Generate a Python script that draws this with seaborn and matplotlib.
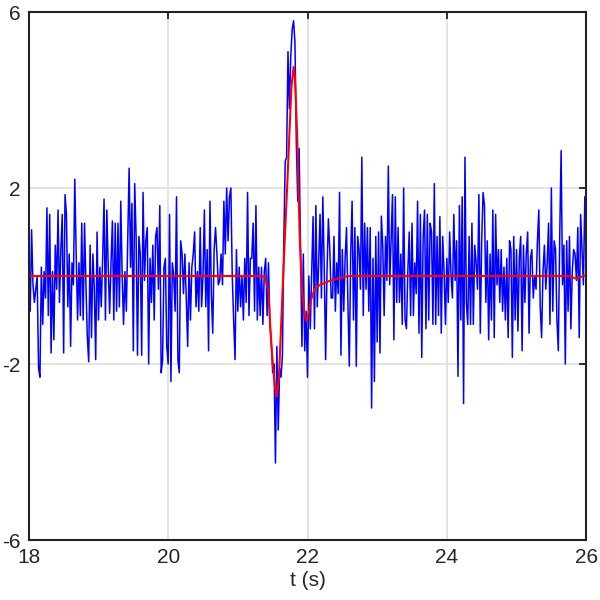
import matplotlib
matplotlib.use("Agg")
import matplotlib.pyplot as plt
import numpy as np
import pandas as pd
import seaborn as sns

# noisy measured signal, one value every 0.02 s from 18 s to 26 s
blue_18 = [0.3, -0.8, 1.05, -0.2, -0.6, -0.3, 0.0, -2.1, -2.3, 0.2,
           -1.1, 0.1, -0.5, 1.55, -0.9, 1.4, -1.75, 0.1, -1.45, 0.7,
           -0.3, 1.5, -0.6, 0.6, 1.4, -1.75, 1.85, 1.4, -0.7, 0.5,
           -1.6, 0.3, -0.2, 2.2, 0.5, -1.0, 0.3, -0.9, 1.2, -1.0,
           1.2, -0.2, -1.4, -1.95, 0.7, -1.4, 0.5, -0.3, -1.9, 1.0]
blue_19 = [-1.0, 0.2, -0.7, 0.4, 1.75, -1.0, 1.5, 0.2, -0.85, 0.3,
           1.25, -1.0, 1.2, -0.8, 1.2, -0.7, 1.7, 0.0, -1.1, 0.1,
           -0.8, 0.8, 2.45, 0.2, 1.65, -1.7, 2.1, 0.9, -1.8, 0.9,
           0.5, -1.8, 1.9, -0.1, 0.8, 1.1, -2.0, 0.4, -0.6, 0.7,
           -1.0, 0.9, 1.1, -0.3, 1.6, -2.2, -1.9, 0.2, 0.4, -1.6]
blue_20 = [-2.0, 1.4, -2.4, 0.3, 0.0, -0.8, 1.8, -1.9, -2.2, 0.8,
           0.5, -0.4, 0.5, -0.5, -1.6, 0.3, -1.0, 0.2, 0.5, 1.0,
           -0.7, 0.1, -0.8, 1.1, -0.7, 0.0, 1.5, -0.7, 0.6, -1.7,
           1.7, -0.4, -1.3, 0.6, 1.1, 0.5, -0.2, -0.1, 0.5, -0.2,
           1.7, 0.5, 2.0, 0.8, 1.8, 2.0, 0.0, -1.0, -1.9, 0.6]
blue_21 = [-0.8, 0.2, -0.7, 0.0, -1.0, 0.4, -0.6, 1.9, -0.9, 0.4,
           0.4, 1.2, -0.8, 1.6, -1.0, 0.2, -0.9, 0.2, -1.1, 0.1,
           0.4, -0.9, 0.3, -1.1, -1.5, -2.2, -2.0, -4.25, -1.6, -3.5,
           -2.1, -2.3, -1.8, 0.8, 2.6, 2.7, 5.1, 3.8, 5.0, 5.6,
           5.8, 5.3, 3.0, 1.7, 2.9, 0.7, -1.6, 0.5, -1.7, -0.8]
blue_22 = [-2.3, 0.0, -1.2, 0.1, 1.35, -1.2, 1.6, -0.7, 0.3, 1.4,
           -0.5, 1.8, 0.2, -1.9, 0.1, 1.3, 0.6, -0.5, -0.5, 0.9,
           -0.8, 0.3, -0.4, 1.9, -1.8, 0.6, -0.8, 0.4, 1.1, -0.6,
           -2.05, 0.5, 1.7, -1.0, 1.1, -2.05, 0.9, 0.6, -0.3, 2.7,
           -0.9, 1.2, -0.3, 1.1, -0.8, 1.1, -3.0, 0.4, -2.4, 0.9]
blue_23 = [-1.5, 1.0, -1.75, 1.36, 0.7, -0.9, 0.9, -0.1, 2.5, -0.2,
           0.8, 1.85, -1.45, 1.8, -0.6, 1.1, -0.6, 0.5, -1.1, 2.0,
           -1.0, -1.2, 0.1, 1.0, -0.9, 1.2, -0.9, 0.3, -0.4, 1.7,
           -1.3, 1.4, -1.85, 0.9, 1.5, -1.2, 1.4, -1.0, 1.2, 1.0,
           -1.1, 2.1, -1.1, 0.9, -0.9, 1.35, -1.3, 0.9, 0.1, -1.1]
blue_24 = [0.4, -0.6, 1.0, 0.0, -0.5, 1.4, -0.1, 0.8, -2.28, 1.6,
           -1.0, 1.8, -2.9, 2.7, -0.6, -1.1, 0.9, -1.1, 1.2, -1.1,
           0.7, 0.3, -0.3, 1.85, -1.3, 0.8, 1.9, 1.6, -0.6, 0.8,
           -1.45, 0.5, -1.0, 1.5, -1.4, 1.4, -0.2, 0.6, -0.6, 0.6,
           -0.8, 0.2, -1.0, 0.4, -1.4, 0.8, 0.6, -1.85, 0.9, -1.0]
blue_25 = [0.6, -1.25, 0.4, 0.9, -1.7, 0.7, -0.6, 0.5, 1.0, -1.3,
           0.4, 0.6, -0.5, 0.0, -0.3, 0.8, 1.5, -0.7, -1.4, 0.1,
           0.7, -0.3, 0.3, 1.2, -1.1, 2.0, -0.8, 0.8, 0.6, -1.0,
           -1.7, 0.9, 2.85, -0.2, 0.7, -2.0, 0.8, -0.8, 0.9, -1.2,
           0.1, 0.6, 0.5, -0.1, 1.1, -1.4, 1.4, 0.6, -0.2, 1.8,
           0.3]

# fitted smooth pulse
red_t = [18.0, 21.30, 21.39, 21.44, 21.46, 21.49, 21.51, 21.53, 21.56,
         21.59, 21.63, 21.67, 21.71, 21.75, 21.77, 21.80, 21.82, 21.85,
         21.87, 21.89, 21.92, 21.96, 21.99, 22.01, 22.05, 22.10, 22.18,
         22.30, 22.45, 22.60, 25.74, 25.86, 25.96, 26.0]
red_v = [0.0, 0.0, -0.02, -0.35, -1.0, -1.75, -2.13, -2.5, -2.74,
         -2.3, -0.8, 0.7, 2.1, 3.6, 4.3, 4.75, 4.5, 3.3,
         2.0, 0.8, -0.3, -0.9, -1.03, -0.9, -0.55, -0.3, -0.2,
         -0.12, -0.05, 0.0, 0.0, -0.06, 0.0, 0.02]

x_ticks = [18, 20, 22, 24, 26]
y_ticks = [-6, -2, 2, 6]

blue = blue_18 + blue_19 + blue_20 + blue_21 + blue_22 + blue_23 + blue_24 + blue_25
signal = pd.DataFrame({"t": np.linspace(18, 26, len(blue)), "v": blue})
fit = pd.DataFrame({"t": red_t, "v": red_v})

sns.set_style("white")
plt.rcParams["font.family"] = ["Liberation Sans", "DejaVu Sans"]
plt.rcParams["axes.unicode_minus"] = False

fig = plt.figure(figsize=(6, 6), dpi=100)
ax = fig.add_axes([0.048, 0.1, 0.929, 0.88])

sns.lineplot(data=signal, x="t", y="v", color="#0000ff", lw=1.1, ax=ax)
sns.lineplot(data=fit, x="t", y="v", color="#ff0000", lw=1.5, ax=ax)

ax.set_xlim(18, 26)
ax.set_ylim(-6, 6)
ax.set_xticks(x_ticks)
ax.set_yticks(y_ticks)
ax.set_xlabel("t (s)", fontsize=15, labelpad=3)
ax.set_ylabel("")
ax.grid(True, color="#e2e2e2", lw=1.3)
ax.set_axisbelow(True)
ax.tick_params(direction="in", length=5, width=1.3, labelsize=15,
               top=True, right=True, color="#222222", pad=6)
for s in ax.spines.values():
    s.set_visible(True)
    s.set_color("#222222")
    s.set_linewidth(1.5)

fig.savefig("out.png", dpi=100)
